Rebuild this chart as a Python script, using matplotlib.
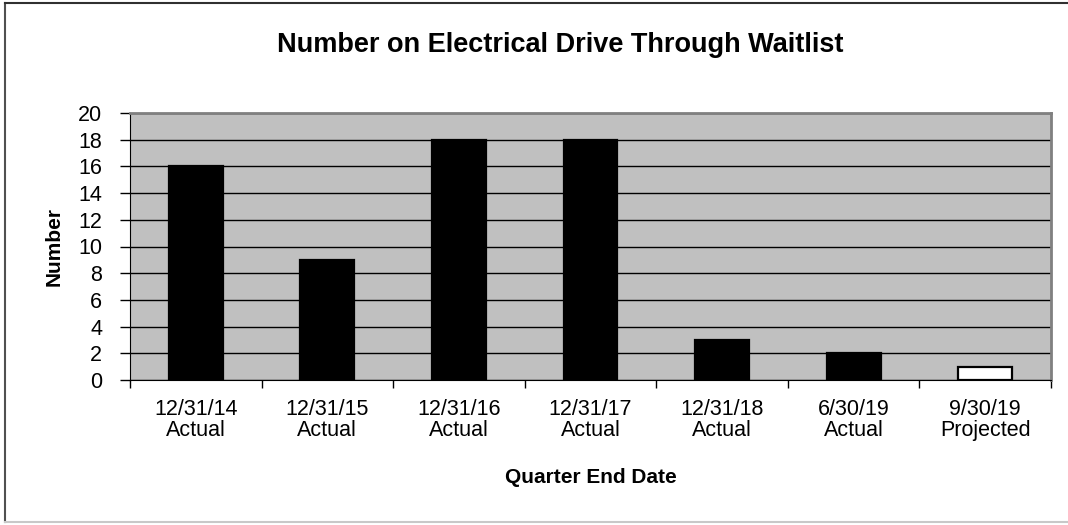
import matplotlib
matplotlib.use("Agg")
import matplotlib.pyplot as plt
from matplotlib.lines import Line2D
import numpy as np

plt.rcParams['font.family'] = ['Liberation Sans', 'DejaVu Sans']

# data
dates = ['12/31/14', '12/31/15', '12/31/16', '12/31/17', '12/31/18', '6/30/19', '9/30/19']
kinds = ['Actual', 'Actual', 'Actual', 'Actual', 'Actual', 'Actual', 'Projected']
values = [16, 9, 18, 18, 3, 2, 1]
y_ticks = list(range(0, 21, 2))

labels = [d + '\n' + k for d, k in zip(dates, kinds)]
colors = ['black' if k == 'Actual' else 'white' for k in kinds]

fig = plt.figure(figsize=(10.68, 5.25), dpi=100)
W, H = 1068, 525

# outer chart frame
fig.add_artist(Line2D([5 / W, 5 / W], [1 - 3 / H, 1 - 522 / H], color='#505050', lw=1.5))
fig.add_artist(Line2D([5 / W, 1.0], [1 - 3 / H, 1 - 3 / H], color='#303030', lw=1.5))
fig.add_artist(Line2D([5 / W, 1.0], [1 - 522 / H, 1 - 522 / H], color='#c8c8c8', lw=1.5))

ax = fig.add_axes([130 / W, 1 - 380 / H, 921 / W, 267 / H])
ax.set_facecolor('#c0c0c0')

x = np.arange(len(values))
ax.bar(x, values, width=0.41, color=colors, edgecolor='black', linewidth=1.6, zorder=3)

ax.set_xlim(-0.5, len(values) - 0.5)
ax.set_ylim(0, 20)
ax.set_yticks(y_ticks)
ax.yaxis.grid(True, color='black', linewidth=1.0, zorder=1)
ax.set_axisbelow(True)

# ticks between the categories, labels centered on the bars
ax.set_xticks(np.arange(-0.5, len(values), 1.0))
ax.set_xticklabels([])
ax.set_xticks(x, minor=True)
ax.set_xticklabels(labels, minor=True, fontsize=15.5, linespacing=0.98)
ax.tick_params(axis='x', which='minor', length=0, pad=14)
ax.tick_params(axis='x', which='major', direction='out', length=6, color='black', width=1)
ax.tick_params(axis='y', direction='out', length=7, width=1, pad=13, labelsize=15.5)

for s in ['top', 'right']:
    ax.spines[s].set_color('#808080')
    ax.spines[s].set_linewidth(2)
ax.spines['left'].set_color('black')
ax.spines['bottom'].set_color('black')

ax.set_xlabel('Quarter End Date', fontsize=15, fontweight='bold')
ax.xaxis.set_label_coords(0.5, -0.386)
ax.xaxis.label.set_va('baseline')
ax.set_ylabel('Number', fontsize=15, fontweight='bold')
ax.yaxis.set_label_coords(-0.0825, 0.5)
ax.yaxis.label.set_va('center')

fig.text(560 / W, 1 - 52 / H, 'Number on Electrical Drive Through Waitlist',
         fontsize=19.5, fontweight='bold', ha='center', va='baseline')

fig.savefig('out.png', dpi=100)
